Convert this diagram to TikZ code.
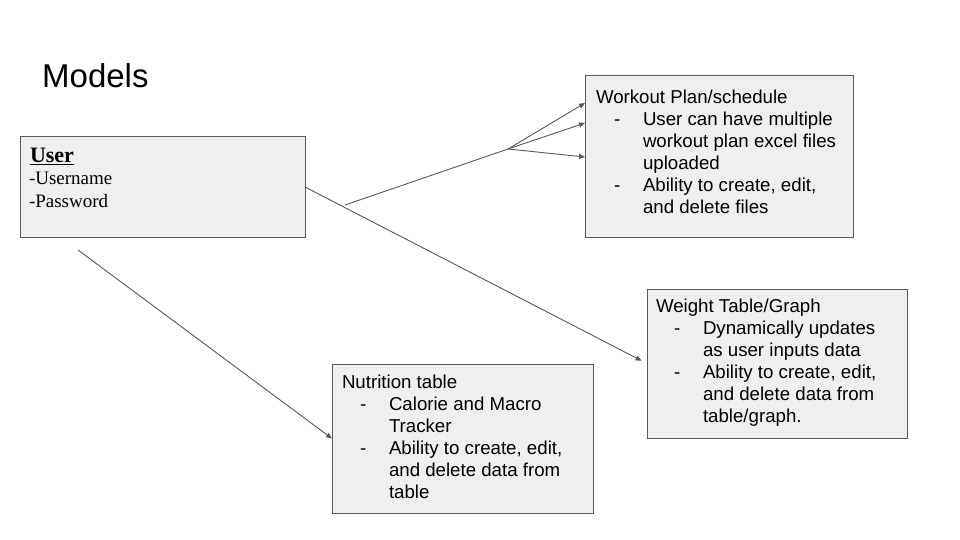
\documentclass[tikz,border=0pt]{standalone}
\usepackage{fontspec}
\setmainfont{Liberation Sans}
\newfontfamily\userserif{Liberation Serif}
\usetikzlibrary{arrows.meta}
\definecolor{boxfill}{HTML}{EFEFEF}
\definecolor{boxline}{HTML}{595959}
\newcommand{\dashitem}[1]{\hspace*{18pt}\makebox[29pt][l]{-}#1}
\newcommand{\contline}[1]{\hspace*{47pt}#1}
\tikzset{
  box/.style={draw=boxline, fill=boxfill, line width=1pt, inner sep=0pt, outer sep=0pt, anchor=north west},
  txt/.style={inner sep=0pt, outer sep=0pt, align=left, anchor=north west, font=\fontsize{18.67}{22}\selectfont},
  usertxt/.style={inner sep=0pt, outer sep=0pt, anchor=base west, font=\userserif\fontsize{19}{22}\selectfont},
  conn/.style={draw=boxline, line width=0.9pt},
  arr/.style={conn, -{Triangle[length=6pt,width=5pt]}}
}
\begin{document}
\begin{tikzpicture}[x=1pt,y=-1pt]
\useasboundingbox[fill=white] (0,0) rectangle (960,540);

% title
\node[inner sep=0pt, anchor=base west, font=\fontsize{33}{36}\selectfont] (title) at (42,88) {Models};

% User box
\node[box, minimum width=285pt, minimum height=100pt] (user) at (20,137) {};
\node[usertxt, font=\userserif\fontsize{22}{24}\selectfont] (uhead) at (30,163) {\textbf{\underline{User}}};
\node[usertxt] (uname) at (29,185) {-Username};
\node[usertxt] (upass) at (29,207) {-Password};

% Workout box
\node[box, minimum width=268pt, minimum height=161pt] (workout) at (585,76) {};
\node[txt] (workouttxt) at (596,89.7) {Workout Plan/schedule\\
\dashitem{User can have multiple}\\
\contline{workout plan excel files}\\
\contline{uploaded}\\
\dashitem{Ability to create, edit,}\\
\contline{and delete files}};

% Weight box
\node[box, minimum width=260pt, minimum height=149pt] (weight) at (647,289) {};
\node[txt] (weighttxt) at (656,299) {Weight Table/Graph\\
\dashitem{Dynamically updates}\\
\contline{as user inputs data}\\
\dashitem{Ability to create, edit,}\\
\contline{and delete data from}\\
\contline{table/graph.}};

% Nutrition box
\node[box, minimum width=261pt, minimum height=149pt] (nutrition) at (332,364) {};
\node[txt] (nutritiontxt) at (342,374.7) {Nutrition table\\
\dashitem{Calorie and Macro}\\
\contline{Tracker}\\
\dashitem{Ability to create, edit,}\\
\contline{and delete data from}\\
\contline{table}};

% connectors
\coordinate (wstart) at (345,205);
\coordinate (junction) at (508,149);
\coordinate (nstart) at (78,250);
\draw[conn] (wstart) -- (junction);
\draw[arr] (junction) -- ([yshift=-27pt]workout.north west);
\draw[arr] (junction) -- ([yshift=-47pt]workout.north west);
\draw[arr] (junction) -- ([yshift=-81pt]workout.north west);
\draw[arr, shorten >=6pt] (user.east) -- (weight.west);
\draw[arr] (nstart) -- (nutrition.west);
\end{tikzpicture}
\end{document}
